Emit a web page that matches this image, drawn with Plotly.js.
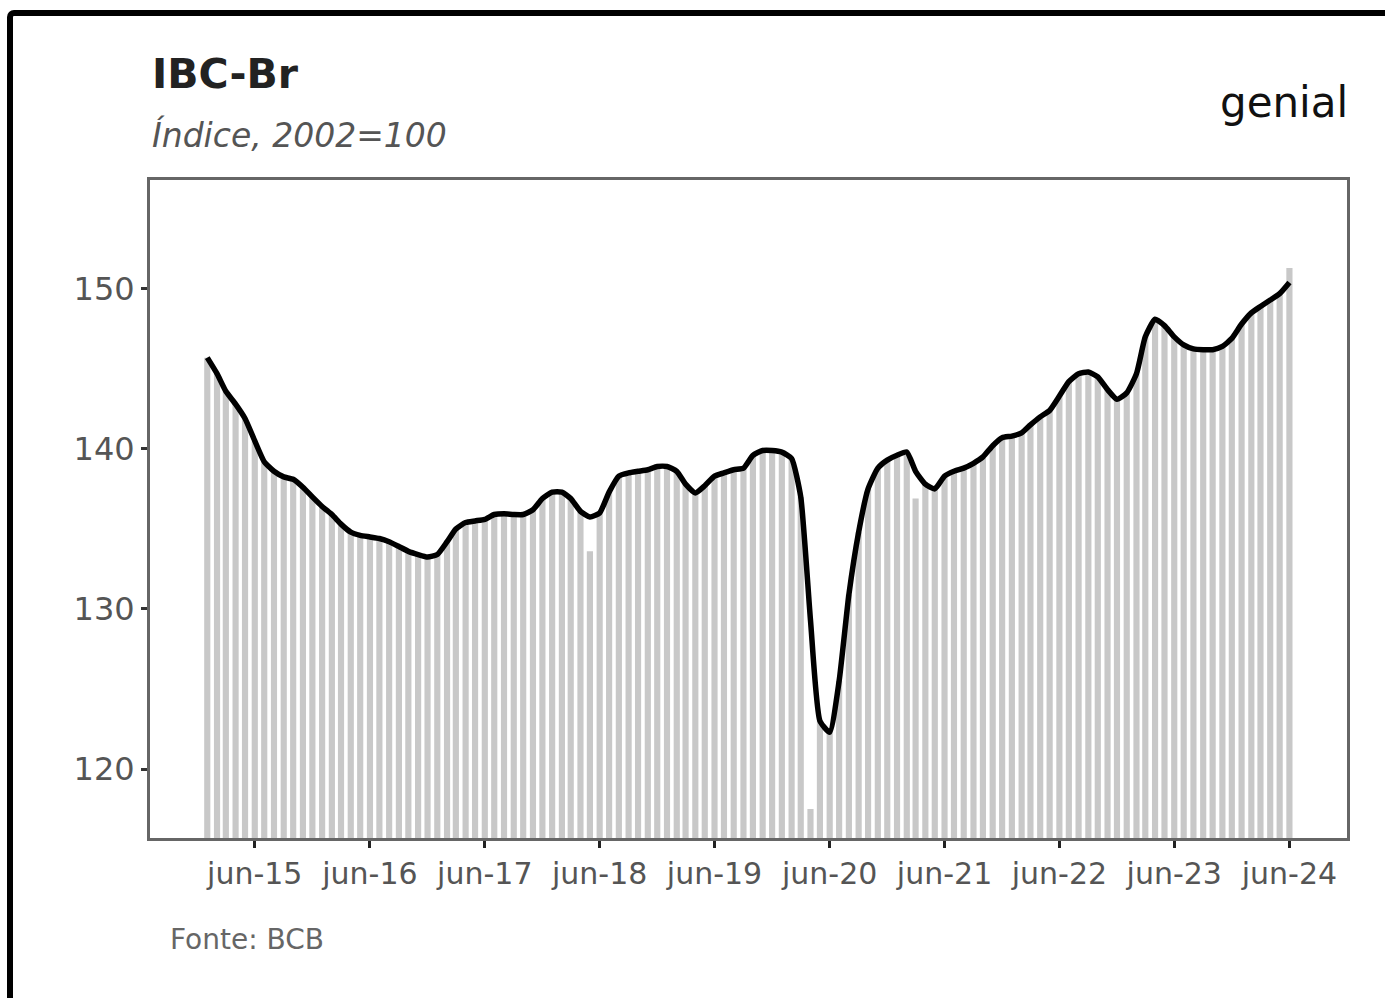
<!DOCTYPE html>
<html>
<head>
<meta charset="utf-8">
<script src="https://cdn.plot.ly/plotly-3.0.1.min.js"></script>
<style>
  html, body { margin: 0; padding: 0; background: #fff; }
  #chart { width: 1385px; height: 998px; }
  #frame { position: absolute; left: 7px; top: 10px; width: 1400px; height: 1000px;
           border-left: 6px solid #000; border-top: 6px solid #000; border-top-left-radius: 7px;
           pointer-events: none; box-sizing: border-box; }
</style>
</head>
<body>
<div id="chart"></div>
<div id="frame"></div>
<script>
// Monthly series, Jan 2015 .. Jun 2024
const startYear = 2015;
const tickLabels = ["jun-15","jun-16","jun-17","jun-18","jun-19","jun-20","jun-21","jun-22","jun-23","jun-24"];
const tickDates = ["2015-06-01","2016-06-01","2017-06-01","2018-06-01","2019-06-01","2020-06-01","2021-06-01","2022-06-01","2023-06-01","2024-06-01"];

// Black line (IBC-Br index)
const lineValues = [
  145.7,144.7,143.6,142.8,141.9,140.5,139.2,138.6,138.25,138.1,137.6,137.0,
  136.4,135.9,135.3,134.8,134.6,134.5,134.4,134.2,133.9,133.6,133.4,133.25,
  133.4,134.2,135.0,135.4,135.5,135.6,135.9,135.95,135.9,135.9,136.2,136.9,
  137.3,137.3,136.9,136.1,135.75,136.0,137.3,138.3,138.5,138.6,138.7,138.9,
  138.9,138.6,137.8,137.25,137.7,138.3,138.5,138.7,138.8,139.6,139.9,139.9,
  139.8,139.4,137.0,129.3,123.0,122.3,125.5,130.9,134.8,137.5,138.8,139.3,
  139.6,139.8,138.6,137.8,137.5,138.3,138.6,138.8,139.1,139.5,140.2,140.7,
  140.8,141.0,141.5,142.0,142.4,143.3,144.2,144.7,144.8,144.5,143.7,143.1,
  143.5,144.7,147.0,148.1,147.7,147.0,146.5,146.25,146.2,146.2,146.4,146.9,
  147.8,148.5,148.9,149.3,149.7,150.4
];

// Grey bars
const barValues = [
  145.7,144.7,143.6,142.8,141.9,140.5,139.2,138.6,138.25,138.1,137.6,137.0,
  136.4,135.9,135.3,134.8,134.6,134.5,134.4,134.2,133.9,133.6,133.4,133.25,
  133.4,134.2,135.0,135.4,135.5,135.6,135.9,135.95,135.9,135.9,136.2,136.9,
  137.3,137.3,136.9,136.1,133.6,136.0,137.3,138.3,138.5,138.6,138.7,138.9,
  138.9,138.6,137.8,137.25,137.7,138.3,138.5,138.7,138.8,139.6,139.9,139.9,
  139.8,139.4,137.0,117.5,123.0,122.5,125.5,130.9,134.8,137.5,138.8,139.3,
  139.6,139.8,136.9,137.8,137.5,138.3,138.6,138.8,139.1,139.5,140.2,140.7,
  140.8,141.0,141.5,142.0,142.4,143.3,144.2,144.7,144.8,144.5,143.7,143.1,
  143.5,144.7,147.0,148.1,147.7,147.0,146.5,146.25,146.2,146.2,146.4,146.9,
  147.8,148.5,148.9,149.3,149.7,151.3
];

const months = lineValues.map((_, i) => {
  const y = startYear + Math.floor(i / 12);
  const m = (i % 12) + 1;
  return y + "-" + String(m).padStart(2, "0") + "-01";
});

const FONT = "DejaVu Sans, Arial, sans-serif";

const traces = [
  {
    type: "bar", x: months, y: barValues,
    marker: { color: "#c8c8c8", line: { width: 0 } },
    hoverinfo: "skip", showlegend: false
  },
  {
    type: "scatter", mode: "lines", x: months, y: lineValues,
    line: { color: "#000", width: 5.5, shape: "spline", smoothing: 0.5 },
    showlegend: false
  }
];

const layout = {
  width: 1385, height: 998,
  margin: { l: 150, r: 38, t: 180, b: 160, pad: 0 },
  paper_bgcolor: "#fff", plot_bgcolor: "#fff",
  bargap: 0.3,
  font: { family: FONT, color: "#555" },
  xaxis: {
    type: "date",
    range: ["2014-07-03", "2024-12-01"],
    tickvals: tickDates, ticktext: tickLabels,
    ticks: "outside", ticklen: 7, tickwidth: 3, tickcolor: "#222",
    tickfont: { family: FONT, size: 30, color: "#555" },
    showline: true, mirror: true, linecolor: "#666", linewidth: 3,
    showgrid: false, zeroline: false
  },
  yaxis: {
    range: [115.69, 156.8],
    tickvals: [120, 130, 140, 150],
    ticks: "outside", ticklen: 6, tickwidth: 3, tickcolor: "#333",
    tickfont: { family: FONT, size: 32, color: "#555" },
    showline: true, mirror: true, linecolor: "#666", linewidth: 3,
    showgrid: false, zeroline: false
  },
  annotations: [
    { text: "<b>IBC-Br</b>", xref: "paper", yref: "paper", x: 0, y: 1.161,
      xanchor: "left", yanchor: "middle", showarrow: false,
      font: { family: FONT, size: 41, color: "#222" } },
    { text: "<i>Índice, 2002=100</i>", xref: "paper", yref: "paper", x: 0, y: 1.068,
      xanchor: "left", yanchor: "middle", showarrow: false,
      font: { family: FONT, size: 33, color: "#555" } },
    { text: "genial", xref: "paper", yref: "paper", x: 1.0025, y: 1.118,
      xanchor: "right", yanchor: "middle", showarrow: false,
      font: { family: FONT, size: 42, color: "#111" } },
    { text: "Fonte: BCB", xref: "paper", yref: "paper", x: 0.015, y: -0.155,
      xanchor: "left", yanchor: "middle", showarrow: false,
      font: { family: FONT, size: 28, color: "#666" } }
  ]
};

Plotly.newPlot("chart", traces, layout, { displayModeBar: false, staticPlot: true });
</script>
</body>
</html>
